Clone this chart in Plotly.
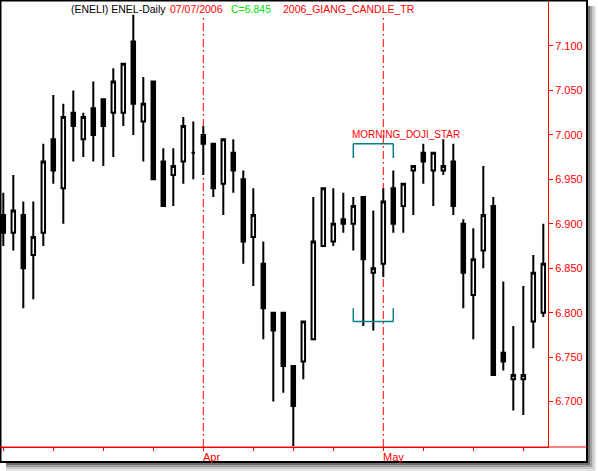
import pandas as pd
import plotly.graph_objects as go

# ---------------- data ----------------
holidays = ["2006-04-14", "2006-04-17", "2006-05-01"]
dates = [d.strftime("%Y-%m-%d") for d in pd.bdate_range("2006-03-06", "2006-05-24")
         if d.strftime("%Y-%m-%d") not in holidays]

opens = [6.910, 6.890, 6.910, 6.865, 6.890, 6.995, 6.940, 7.025, 6.995, 7.030,
         7.040, 7.025, 7.025, 7.105, 7.015, 7.060, 6.970, 6.955, 6.970, 6.980,
         7.000, 6.990, 6.945, 6.980, 6.950, 6.885, 6.855, 6.800, 6.800, 6.740,
         6.745, 6.770, 6.875, 6.880, 6.905, 6.900, 6.930, 6.845, 6.855, 6.940,
         6.920, 6.960, 6.980, 6.960, 6.960, 6.970, 6.900, 6.820, 6.870, 6.920,
         6.755, 6.725, 6.725, 6.790, 6.800]
highs = [6.935, 6.955, 6.925, 6.925, 6.990, 7.045, 7.035, 7.050, 7.025, 7.060,
         7.040, 7.075, 7.080, 7.135, 7.065, 7.060, 6.985, 6.985, 7.020, 7.015,
         7.010, 6.990, 6.995, 6.995, 6.960, 6.940, 6.880, 6.800, 6.800, 6.740,
         6.790, 6.930, 6.940, 6.940, 6.935, 6.930, 6.930, 6.915, 6.940, 6.960,
         6.945, 6.965, 6.990, 6.980, 6.995, 6.990, 6.905, 6.895, 6.965, 6.930,
         6.835, 6.785, 6.830, 6.865, 6.900]
lows = [6.875, 6.870, 6.805, 6.815, 6.875, 6.945, 6.900, 6.970, 6.975, 6.970,
        6.965, 6.975, 7.010, 7.000, 6.970, 6.950, 6.920, 6.920, 6.945, 6.950,
        6.955, 6.930, 6.910, 6.935, 6.855, 6.830, 6.770, 6.700, 6.710, 6.650,
        6.725, 6.770, 6.875, 6.875, 6.890, 6.870, 6.785, 6.780, 6.840, 6.890,
        6.890, 6.910, 6.945, 6.920, 6.955, 6.910, 6.805, 6.770, 6.850, 6.730,
        6.735, 6.690, 6.685, 6.760, 6.795]
closes = [6.890, 6.915, 6.850, 6.885, 6.970, 6.960, 7.020, 7.010, 7.020, 7.000,
          7.010, 7.060, 7.080, 7.035, 7.035, 6.950, 6.920, 6.965, 7.010, 6.980,
          6.990, 6.940, 6.995, 6.960, 6.880, 6.910, 6.805, 6.780, 6.740, 6.695,
          6.790, 6.880, 6.940, 6.900, 6.900, 6.920, 6.860, 6.850, 6.925, 6.900,
          6.945, 6.965, 6.970, 6.980, 6.965, 6.920, 6.845, 6.860, 6.910, 6.730,
          6.745, 6.730, 6.730, 6.845, 6.855]

y_ticks = [6.70, 6.75, 6.80, 6.85, 6.90, 6.95, 7.00, 7.05, 7.10]
month_labels = ["Apr", "May"]

header_parts = [("(ENELI) ENEL-Daily", "#000000"), ("07/07/2006", "#ff0000"),
                ("C=6.845", "#00e000"), ("2006_GIANG_CANDLE_TR", "#ff0000")]
pattern_name = "MORNING_DOJI_STAR"
pattern_start, pattern_end = 35, 39

# ---------------- derived positions ----------------
ts = pd.to_datetime(dates)
week_starts = [dates[i] for i in range(len(dates))
               if i == 0 or ts[i].isocalendar()[1] != ts[i - 1].isocalendar()[1]]
month_starts = [dates[i] for i in range(1, len(dates)) if ts[i].month != ts[i - 1].month]

W, H = 598, 471
L, R, T, B = 1, 50, 1, 24
PW, PH = W - L - R, H - T - B


def px(x):
    return (x - L) / PW


def py(y):
    return (H - B - y) / PH


fig = go.Figure()
fig.add_trace(go.Candlestick(
    x=dates, open=opens, high=highs, low=lows, close=closes,
    increasing=dict(line=dict(color="black", width=2), fillcolor="white"),
    decreasing=dict(line=dict(color="black", width=2), fillcolor="black"),
    whiskerwidth=0, showlegend=False, hoverinfo="skip",
))

shapes = []
# shadow
for (off, col) in [(9, "#e4e4e4"), (7, "#c8c8c8"), (5, "#a0a0a0"), (3, "#707070")]:
    shapes.append(dict(type="rect", xref="paper", yref="paper",
                       x0=px(587), x1=px(587 + off), y0=py(6), y1=py(462 + off),
                       line=dict(width=0), fillcolor=col, layer="below"))
    shapes.append(dict(type="rect", xref="paper", yref="paper",
                       x0=px(6), x1=px(587 + off), y0=py(462), y1=py(462 + off),
                       line=dict(width=0), fillcolor=col, layer="below"))
# frame
shapes.append(dict(type="rect", xref="paper", yref="paper",
                   x0=px(0.5), x1=px(587), y0=py(0.5), y1=py(462),
                   line=dict(color="black", width=2), fillcolor="rgba(0,0,0,0)", layer="above"))
# extension of the x axis line to the frame
shapes.append(dict(type="line", xref="paper", yref="paper",
                   x0=px(0), x1=px(587), y0=0, y1=0,
                   line=dict(color="#ff0000", width=1), layer="above"))
# month separators
for d in month_starts:
    shapes.append(dict(type="line", xref="x", yref="paper", x0=d, x1=d,
                       y0=0, y1=py(15), line=dict(color="#ff0000", width=1, dash="8px,3px,2px,3px"),
                       layer="below"))
# pattern brackets
teal = "#008080"
xa, xb = dates[pattern_start], dates[pattern_end]
for (yh, yl) in [(6.990, 6.974), (6.790, 6.805)]:
    shapes.append(dict(type="line", xref="x", yref="y", x0=xa, x1=xb, y0=yh, y1=yh,
                       line=dict(color=teal, width=1.5)))
    shapes.append(dict(type="line", xref="x", yref="y", x0=xa, x1=xa, y0=yh, y1=yl,
                       line=dict(color=teal, width=1.5)))
    shapes.append(dict(type="line", xref="x", yref="y", x0=xb, x1=xb, y0=yh, y1=yl,
                       line=dict(color=teal, width=1.5)))

annotations = []
header_x = [69, 168, 229, 281]
for (txt, col), hx in zip(header_parts, header_x):
    annotations.append(dict(text=txt, xref="paper", yref="paper", x=px(hx), y=py(9),
                            xanchor="left", yanchor="middle", showarrow=False,
                            font=dict(family="Liberation Sans, Arial", size=10.5, color=col)))
annotations.append(dict(text=pattern_name, xref="x", yref="paper", x=xa, y=py(134),
                        xanchor="left", yanchor="middle", showarrow=False, xshift=-3,
                        font=dict(family="Liberation Sans, Arial", size=10, color="#ff0000")))
for d, lab in zip(month_starts, month_labels):
    annotations.append(dict(text=lab, xref="x", yref="paper", x=d, y=py(457),
                            xanchor="left", yanchor="middle", showarrow=False, xshift=-2,
                            font=dict(family="Liberation Sans, Arial", size=11, color="#ff0000")))

fig.update_layout(
    width=W, height=H, margin=dict(l=L, r=R, t=T, b=B, pad=0),
    paper_bgcolor="white", plot_bgcolor="white",
    boxgap=0.5,
    shapes=shapes, annotations=annotations,
    font=dict(family="Liberation Sans, Arial", size=11, color="#ff0000"),
    xaxis=dict(type="category", range=[-0.23, len(dates) - 0.53],
               rangeslider=dict(visible=False), showgrid=False, zeroline=False,
               showline=True, linecolor="#ff0000", linewidth=1,
               ticks="outside", ticklen=3, tickcolor="#ff0000", tickwidth=1,
               tickvals=week_starts, ticktext=["" for _ in week_starts],
               fixedrange=True),
    yaxis=dict(side="right", range=[6.6489, 7.1506], showgrid=False, zeroline=False,
               showline=True, linecolor="#ff0000", linewidth=1,
               ticks="outside", ticklen=4, tickcolor="#ff0000", tickwidth=1,
               tickvals=y_ticks, tickformat=".3f",
               tickfont=dict(family="Liberation Sans, Arial", size=11, color="#ff0000"),
               fixedrange=True),
)

fig.write_html("out.html", config={"displayModeBar": False},
               post_script="document.body.style.margin='0';document.body.style.padding='0';")
